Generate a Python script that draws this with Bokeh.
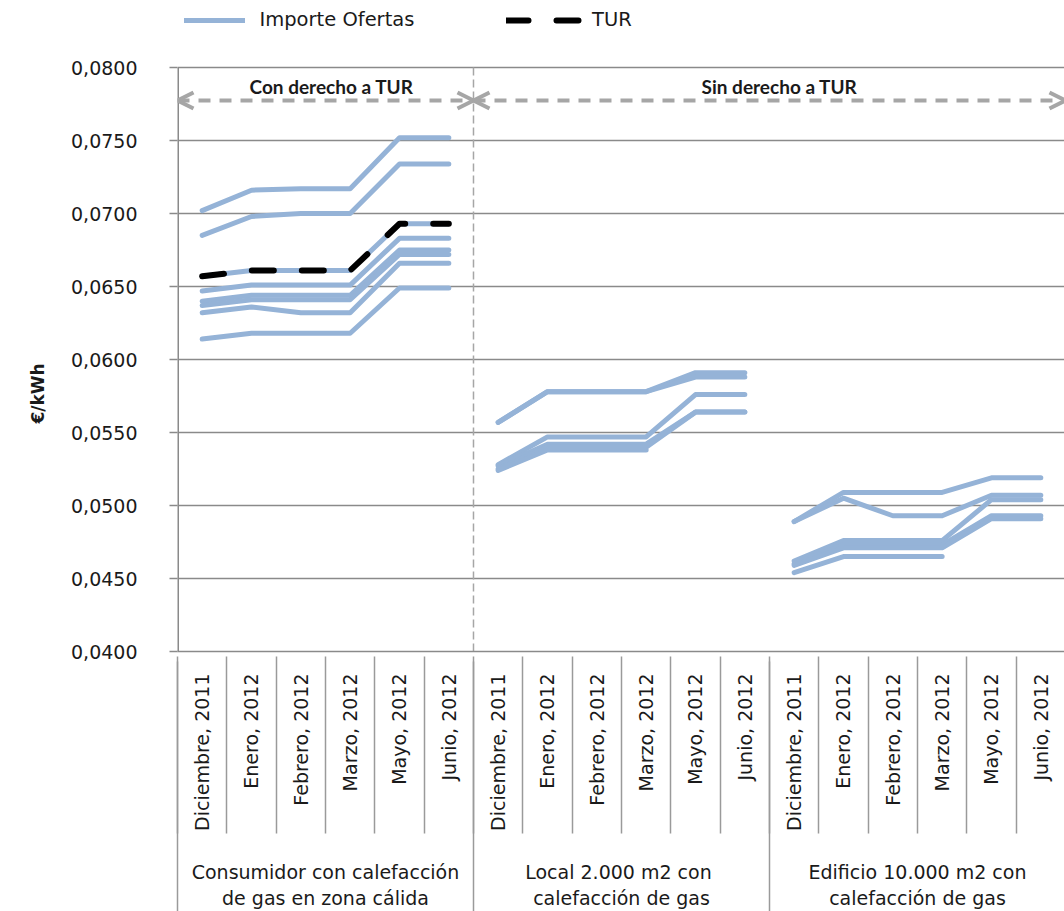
import math
from bokeh.plotting import figure
from bokeh.models import (Range1d, LinearAxis, FixedTicker, Legend, LegendItem,
                          Arrow, OpenHead, Label, Title)
from bokeh.embed import file_html
from bokeh.resources import INLINE

# ---------------- data ----------------
months = ["Diciembre, 2011", "Enero, 2012", "Febrero, 2012",
          "Marzo, 2012", "Mayo, 2012", "Junio, 2012"]
groups = ["Consumidor con calefacción\nde gas en zona cálida",
          "Local 2.000 m2  con\ncalefacción de gas",
          "Edificio 10.000 m2 con\ncalefacción de gas"]
zones = ["Con derecho a TUR", "Sin derecho a TUR"]

y_ticks = [0.0400, 0.0450, 0.0500, 0.0550, 0.0600, 0.0650, 0.0700, 0.0750, 0.0800]
y_tick_labels = ["0,0400", "0,0450", "0,0500", "0,0550", "0,0600",
                 "0,0650", "0,0700", "0,0750", "0,0800"]

nan = float("nan")
offers_consumidor = [
    [0.0702, 0.0716, 0.0717, 0.0717, 0.0752, 0.0752],
    [0.0685, 0.0698, 0.0700, 0.0700, 0.0734, 0.0734],
    [0.0657, 0.0661, 0.0661, 0.0661, 0.0693, 0.0693],
    [0.0647, 0.0651, 0.0651, 0.0651, 0.0683, 0.0683],
    [0.0640, 0.0644, 0.0644, 0.0644, 0.0675, 0.0675],
    [0.0637, 0.0641, 0.0641, 0.0641, 0.0672, 0.0672],
    [0.0632, 0.0636, 0.0632, 0.0632, 0.0666, 0.0666],
    [0.0614, 0.0618, 0.0618, 0.0618, 0.0649, 0.0649],
]
offers_local = [
    [0.0557, 0.0578, 0.0578, 0.0578, 0.0591, 0.0591],
    [0.0557, 0.0578, 0.0578, 0.0578, 0.0588, 0.0588],
    [0.0528, 0.0547, 0.0547, 0.0547, 0.0576, 0.0576],
    [0.0527, 0.0542, 0.0542, 0.0542, 0.0564, 0.0564],
    [0.0525, 0.0540, 0.0540, 0.0540, 0.0564, 0.0564],
    [0.0524, 0.0538, 0.0538, 0.0538, nan, nan],
]
offers_edificio = [
    [0.0489, 0.0509, 0.0509, 0.0509, 0.0519, 0.0519],
    [0.0489, 0.0505, 0.0493, 0.0493, 0.0507, 0.0507],
    [0.0462, 0.0476, 0.0476, 0.0476, 0.0504, 0.0504],
    [0.0460, 0.0473, 0.0473, 0.0473, 0.0493, 0.0493],
    [0.0459, 0.0471, 0.0471, 0.0471, 0.0491, 0.0491],
    [0.0454, 0.0465, 0.0465, 0.0465, nan, nan],
]
tur_consumidor = [0.0657, 0.0661, 0.0661, 0.0661, 0.0693, 0.0693]

# ---------------- figure ----------------
FONT = "DejaVu Sans"
GRID = "#8a8a8a"
SEP = "#9a9a9a"
BLUE = "#95B3D7"
ARROW_GRAY = "#A6A6A6"
TXT = "#1a1a1a"

n_m = len(months)
n_cat = n_m * len(groups)

# frame covers the whole upper area (legend lives inside it, above 0,0800)
y_lo, y_hi = y_ticks[0], y_ticks[-1]
y_top = y_lo + (y_hi - y_lo) * 660.0 / 592.0

p = figure(width=1064, height=911, output_backend="svg", toolbar_location=None,
           x_axis_type=None, x_range=Range1d(0, 17.98), y_range=Range1d(y_lo, y_top),
           min_border_left=177, min_border_right=0, min_border_top=0,
           min_border_bottom=251)
p.outline_line_color = None
p.background_fill_color = "white"
p.xgrid.visible = False

# y axis
yax = p.yaxis[0]
yax.ticker = FixedTicker(ticks=y_ticks)
yax.major_label_overrides = dict(zip(y_ticks, y_tick_labels))
yax.minor_tick_line_color = None
yax.major_tick_in = 0
yax.major_tick_out = 8
yax.major_tick_line_color = GRID
yax.major_tick_line_width = 1.5
yax.axis_line_color = None
yax.major_label_standoff = 32
yax.major_label_text_font = FONT
yax.major_label_text_font_size = "19px"
yax.major_label_text_color = TXT

# y axis title, centred on the value range rather than the whole frame
p.add_layout(Title(text="€/kWh", align="left", offset=228, standoff=38,
                   vertical_align="top",
                   text_font=FONT, text_font_style="bold", text_font_size="17px",
                   text_color=TXT), "left")

p.ygrid.ticker = FixedTicker(ticks=y_ticks)
p.ygrid.grid_line_color = GRID
p.ygrid.grid_line_width = 1.5

centers = [i + 0.5 for i in range(n_cat)]
bounds = list(range(n_cat + 1))
g_centers = [g * n_m + n_m / 2 for g in range(len(groups))]
g_bounds = [g * n_m for g in range(len(groups) + 1)]

# y axis line (only over the value range)
p.segment(x0=[g_bounds[0]], y0=[y_lo], x1=[g_bounds[0]], y1=[y_hi],
          line_color=GRID, line_width=3)

# month axis (labels only)
month_labels = {c: months[i % n_m] for i, c in enumerate(centers)}
month_ax = LinearAxis(ticker=FixedTicker(ticks=centers, minor_ticks=[]),
                      major_label_overrides=month_labels,
                      major_label_orientation=math.pi / 2,
                      major_tick_in=0, major_tick_out=0,
                      minor_tick_line_color=None,
                      axis_line_color=GRID, axis_line_width=1.5,
                      major_label_standoff=22,
                      major_label_text_font=FONT,
                      major_label_text_font_size="19px",
                      major_label_text_color=TXT)
p.add_layout(month_ax, "below")

# group axis: labels + month separators drawn upward
grp_ax = LinearAxis(ticker=FixedTicker(ticks=g_centers, minor_ticks=bounds),
                    major_label_overrides=dict(zip(g_centers, groups)),
                    major_label_orientation="horizontal",
                    major_tick_in=0, major_tick_out=0,
                    minor_tick_in=177, minor_tick_out=0,
                    minor_tick_line_color=SEP, minor_tick_line_width=1.5,
                    axis_line_color=None,
                    major_label_standoff=27,
                    major_label_text_font=FONT,
                    major_label_text_font_size="19px",
                    major_label_text_color=TXT)
p.add_layout(grp_ax, "below")

# bottom axis: group separators drawn upward over both rows
sep_ax = LinearAxis(ticker=FixedTicker(ticks=g_bounds, minor_ticks=[]),
                    major_label_overrides={b: "" for b in g_bounds},
                    major_tick_in=250, major_tick_out=0,
                    major_tick_line_color=SEP, major_tick_line_width=1.5,
                    minor_tick_line_color=None,
                    axis_line_color=None,
                    major_label_standoff=0,
                    major_label_text_font_size="1px")
p.add_layout(sep_ax, "below")

# dashed separator between zones (over the value range)
p.segment(x0=[g_bounds[1]], y0=[y_lo], x1=[g_bounds[1]], y1=[y_hi],
          line_color="#A6A6A6", line_width=1.5, line_dash="8 4")

# offers lines
all_offers = [offers_consumidor, offers_local, offers_edificio]
offer_renderer = None
for g, offers in enumerate(all_offers):
    xs = [g * n_m + i + 0.5 for i in range(n_m)]
    for ser in offers:
        r = p.line(xs, ser, line_color=BLUE, line_width=5,
                   line_cap="round", line_join="round")
        if offer_renderer is None:
            offer_renderer = r

xs0 = [i + 0.5 for i in range(n_m)]
tur_r = p.line(xs0, tur_consumidor, line_color="black", line_width=6,
               line_dash="22 28", line_cap="round", line_join="round")

# zone arrows and labels
y_arrow = 0.07775
for (a, b) in [(g_bounds[0], g_bounds[1]), (g_bounds[1], g_bounds[3])]:
    p.add_layout(Arrow(start=OpenHead(size=16, line_width=4, line_color=ARROW_GRAY),
                       end=OpenHead(size=16, line_width=4, line_color=ARROW_GRAY),
                       x_start=a, y_start=y_arrow, x_end=b, y_end=y_arrow,
                       line_color=ARROW_GRAY, line_width=4, line_dash="12 9"))

p.add_layout(Label(x=(g_bounds[0] + g_bounds[1]) / 2, y=0.07872, text=zones[0],
                   text_align="center", text_baseline="middle", x_offset=6,
                   text_font="Lato", text_font_style="bold", text_font_size="19px",
                   text_color=TXT))
p.add_layout(Label(x=(g_bounds[1] + g_bounds[3]) / 2, y=0.07872, text=zones[1],
                   text_align="center", text_baseline="middle", x_offset=10,
                   text_font="Lato", text_font_style="bold", text_font_size="19px",
                   text_color=TXT))

# legends
leg1 = Legend(items=[LegendItem(label="Importe Ofertas", renderers=[offer_renderer])],
              location=(6.5, 620), glyph_width=61, glyph_height=20, label_standoff=15,
              padding=0, margin=0, border_line_color=None, background_fill_alpha=0,
              label_text_font=FONT, label_text_font_size="19.5px",
              label_text_color=TXT)
leg2 = Legend(items=[LegendItem(label="TUR", renderers=[tur_r])],
              location=(329, 620), glyph_width=79, glyph_height=20, label_standoff=7,
              padding=0, margin=0, border_line_color=None, background_fill_alpha=0,
              label_text_font=FONT, label_text_font_size="19.5px",
              label_text_color=TXT)
p.add_layout(leg1)
p.add_layout(leg2)

open("out.html", "w").write(file_html(p, INLINE))
